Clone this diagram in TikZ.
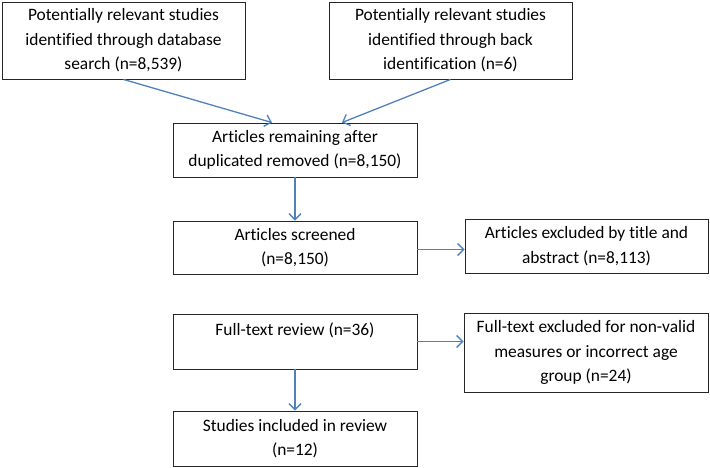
\documentclass[tikz,border=0pt]{standalone}
\usepackage{fontspec}
\setmainfont{Carlito}[Ligatures=CommonOff]
\usetikzlibrary{arrows.meta,calc}
\definecolor{arrowblue}{RGB}{79,129,189}
\begin{document}
\begin{tikzpicture}[x=1pt,y=-1pt,
  box/.style={draw=black!85,line width=0.9pt,rectangle,align=center,inner sep=0pt,
    font=\fontsize{17.4pt}{24.5pt}\selectfont},
  conn/.style={draw=arrowblue,line width=1.3pt,-{Straight Barb[length=6pt,width=12pt]}}]
\useasboundingbox (0,0) rectangle (710,468);
\node[box,minimum width=243pt,minimum height=77pt] (b1) at (123.5,40.5)
  {Potentially relevant studies\\identified through database\\search (n=8,539)};
\node[box,minimum width=243pt,minimum height=77pt] (b2) at (450.5,40.5)
  {Potentially relevant studies\\identified through back\\identification (n=6)};
\node[box,minimum width=244pt,minimum height=54pt] (b3) at (295,150)
  {Articles remaining after\\duplicated removed (n=8,150)};
\node[box,minimum width=244pt,minimum height=53pt] (b4) at (295,247.5)
  {Articles screened\\(n=8,150)};
\node[box,minimum width=243pt,minimum height=54pt] (b5) at (586.5,246)
  {Articles excluded by title and\\abstract (n=8,113)};
\node[box,minimum width=244pt,minimum height=55pt] (b6) at (295,341.5)
  {Full-text review (n=36)\\\mbox{}};
\node[box,minimum width=244pt,minimum height=79pt] (b7) at (586,352.5)
  {Full-text excluded for non-valid\\measures or incorrect age\\group (n=24)};
\node[box,minimum width=244pt,minimum height=55pt] (b8) at (295,438.5)
  {Studies included in review\\(n=12)};
\draw[conn] (b1.south) -- ([xshift=-23pt]b3.north);
\draw[conn] (b2.south) -- ([xshift=47pt]b3.north);
\draw[conn] (b3.south) -- (b4.north);
\draw[conn] ([yshift=-2pt]b4.east) -- ([yshift=-2pt]b4.east -| b5.west);
\draw[conn] (b6.east) -- (b6.east -| b7.west);
\draw[conn] (b6.south) -- (b8.north);
\end{tikzpicture}
\end{document}
